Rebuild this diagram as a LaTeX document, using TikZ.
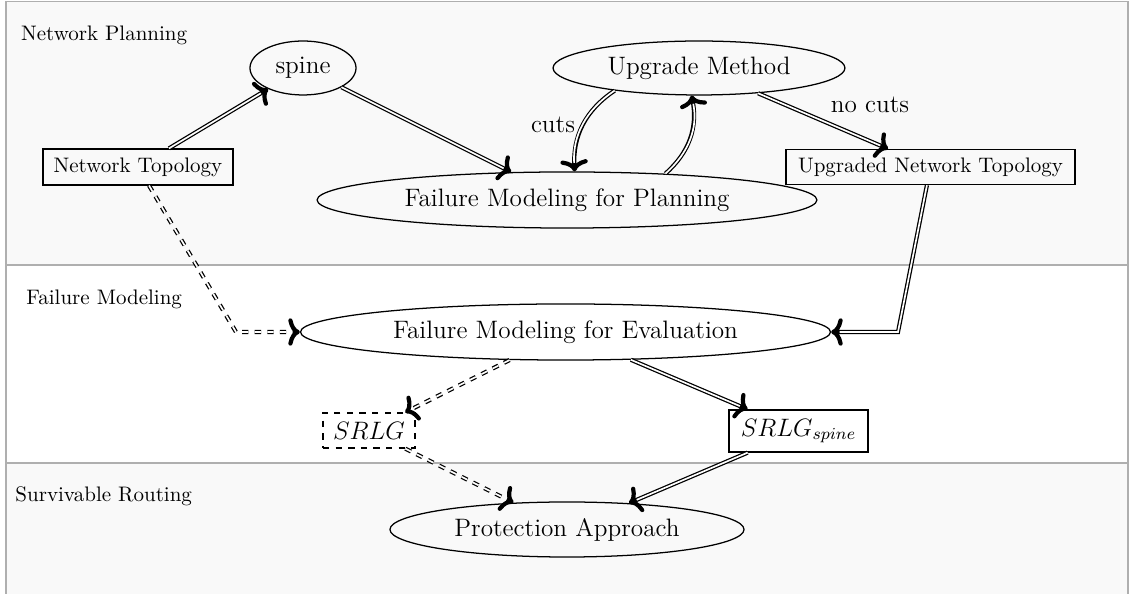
\documentclass[tikz,border=0pt]{standalone}
\usetikzlibrary{shapes.geometric,arrows.meta}
\definecolor{bandfill}{RGB}{249,249,249}
\definecolor{bandline}{RGB}{175,175,175}
\begin{document}
\begin{tikzpicture}[x=0.47619pt,y=-0.47619pt,
  bandln/.style={draw=bandline,line width=0.5pt},
  ell/.style={ellipse,draw,semithick,inner sep=0pt,font=\large},
  box/.style={rectangle,draw,semithick,inner sep=0pt},
  lbl/.style={inner sep=0pt,anchor=base west},
  tipend/.style={-{To[round,length=5.5pt,width=13pt]}},
  % double connector: a thick black stroke with a white core on top
  conn/.style={draw=white,line width=0.8pt,shorten >=4pt,
    preaction={draw=black,line width=2pt,shorten >=0pt,tipend}},
  dconn/.style={draw=white,line width=0.8pt,dashed,shorten >=4pt,
    preaction={draw=black,line width=2pt,dashed,shorten >=0pt,tipend}},
  edgelbl/.style={font=\large}]
\useasboundingbox (0,0) rectangle (1129,594);

% swim-lane background
\fill[bandfill] (6,1.5) rectangle (1128,265);
\fill[bandfill] (6,463) rectangle (1128,594);
\draw[bandln] (6,594) -- (6,1.5) -- (1128,1.5) -- (1128,594);
\draw[bandln] (6,265) -- (1128,265);
\draw[bandln] (6,463) -- (1128,463);

% lane titles
\node[lbl] (np) at (20.7,40.7) {Network Planning};
\node[lbl] (fm) at (26,304.3) {Failure Modeling};
\node[lbl] (sr) at (15,501.5) {Survivable Routing};

% nodes
\node[ell,minimum width=50.5pt,minimum height=25.7pt] (spine) at (303,68) {spine};
\node[ell,minimum width=139pt,minimum height=25.7pt] (um) at (699,68) {Upgrade Method};
\node[ell,minimum width=238pt,minimum height=26.7pt] (fmp) at (567,200) {Failure Modeling for Planning};
\node[box,minimum width=90.5pt,minimum height=17.1pt] (nt) at (138,167) {Network Topology};
\node[box,minimum width=137.6pt,minimum height=16.7pt] (unt) at (930.5,167) {Upgraded Network Topology};
\node[ell,minimum width=252.4pt,minimum height=26.7pt] (fme) at (565.5,332) {Failure Modeling for Evaluation};
\node[box,dashed,font=\large,minimum width=43.8pt,minimum height=16.7pt] (srlg) at (369,430.5) {$SRLG$};
\node[box,font=\large,minimum width=66.2pt,minimum height=20pt] (srlgs) at (798.5,431) {$SRLG_{spine}$};
\node[ell,minimum width=168.6pt,minimum height=26.2pt] (pa) at (567,529.5) {Protection Approach};

% bends of the elbow connectors
\coordinate (c1) at (898,332);
\coordinate (c2) at (236,332);

% connectors
\draw[conn] (nt) -- (spine);
\draw[conn] (spine) -- (fmp);
\draw[conn] (um) to[bend right] node[left,edgelbl] {cuts} (fmp);
\draw[conn] (fmp) to[bend right] (um);
\draw[conn] (um) -- node[above right,edgelbl] {no cuts} (unt);
\draw[conn] (unt) -- (c1) -- (fme);
\draw[dconn] (nt) -- (c2) -- (fme);
\draw[dconn] (fme) -- (srlg);
\draw[conn] (fme) -- (srlgs);
\draw[dconn] (srlg) -- (pa);
\draw[conn] (srlgs) -- (pa);
\end{tikzpicture}
\end{document}
